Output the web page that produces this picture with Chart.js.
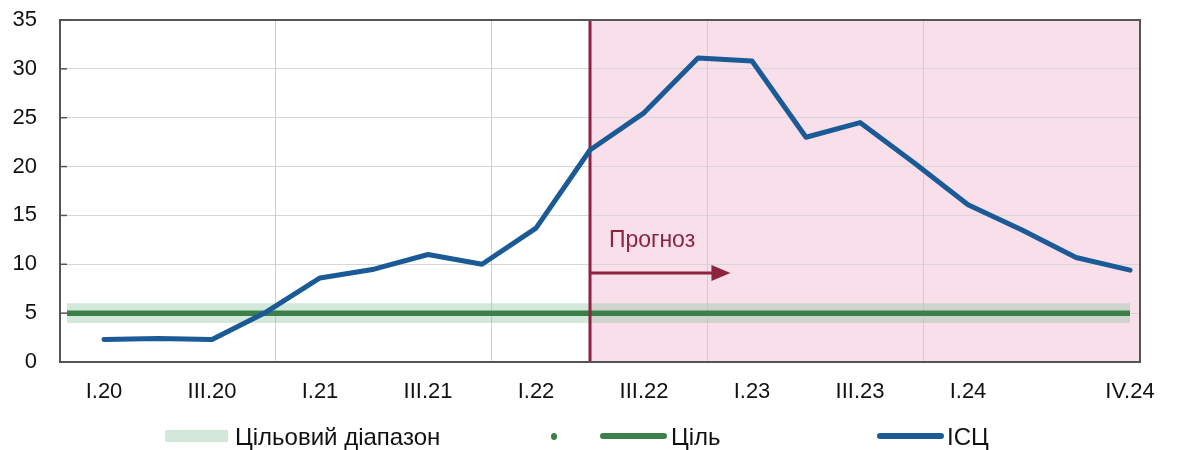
<!DOCTYPE html>
<html>
<head>
<meta charset="utf-8">
<script src="https://cdn.jsdelivr.net/npm/chart.js@4.4.1/dist/chart.umd.min.js"></script>
<style>
  body { margin: 0; background: #fff; }
  #wrap { position: relative; width: 1177px; height: 450px; }
  .legend { position: absolute; top: 423px; height: 28px; font: 24px "Liberation Sans", Arial, sans-serif; color: #111; }
  .legend span { position: absolute; white-space: nowrap; line-height: 28px; }
</style>
</head>
<body>
<div id="wrap">
  <canvas id="grafica"></canvas>
  <div class="legend">
    <span style="left:165px; top:7px; width:63px; height:12px; background:#d3e8da;"></span>
    <span style="left:235px; top:0px;">Цільовий діапазон</span>
    <span style="left:551px; top:10px; width:6px; height:7px; border-radius:50%; background:#3b8048;"></span>
    <span style="left:600px; top:10px; width:67px; height:6px; border-radius:3px; background:#3b8048;"></span>
    <span style="left:671px; top:0px;">Ціль</span>
    <span style="left:877px; top:10px; width:67px; height:6px; border-radius:3px; background:#1a5a96;"></span>
    <span style="left:947px; top:0px;">ІСЦ</span>
  </div>
</div>
<script>
// Дані
const quarters = ["I.20", "II.20", "III.20", "IV.20", "I.21", "II.21", "III.21", "IV.21",
    "I.22", "II.22", "III.22", "IV.22", "I.23", "II.23", "III.23", "IV.23",
    "I.24", "II.24", "III.24", "IV.24"];
const cpi = [2.3, 2.4, 2.3, 5.1, 8.6, 9.5, 11.0, 10.0, 13.7, 21.7, 25.5, 31.1,
    30.8, 23.0, 24.5, 20.4, 16.1, 13.5, 10.7, 9.4];
const tickQuarters = ["I.20", "III.20", "I.21", "III.21", "I.22", "III.22", "I.23", "III.23", "I.24", "IV.24"];
const yTicks = [0, 5, 10, 15, 20, 25, 30, 35];
const target = 5;
const bandLow = 4;
const bandHigh = 6;
const forecastStart = "II.22";
const forecastLabel = "Прогноз";

// розмітка осі x (в одиницях кварталів)
const xMin = -0.815, xMax = 19.185;
const bandFrom = -0.685;
const yearLines = [3.17, 7.17, 11.17, 15.17];
const arrowTo = 11.6, arrowY = 9.1, labelX = 9.35, labelY = 12.4;

const FONT = "'Liberation Sans', Arial, sans-serif";
const RED = "#8c2341";
const last = quarters.length - 1;
const fIdx = quarters.indexOf(forecastStart);

const cpiPoints = cpi.map((v, i) => ({x: i, y: v}));
const span = (v) => [{x: bandFrom, y: v}, {x: last, y: v}];

const forecastPlugin = {
    id: "forecast",
    beforeDraw(chart) {
        let ctx = chart.ctx, a = chart.chartArea, x = chart.scales.x;
        ctx.save();
        ctx.fillStyle = "#f9dfe9";
        let px = x.getPixelForValue(fIdx);
        ctx.fillRect(px, a.top, a.right - px, a.bottom - a.top);
        ctx.restore();
    },
    beforeDatasetsDraw(chart) {
        let ctx = chart.ctx, a = chart.chartArea, x = chart.scales.x;
        ctx.save();
        ctx.strokeStyle = "#cfcfcf";
        ctx.lineWidth = 1;
        yearLines.forEach(v => {
            let px = Math.round(x.getPixelForValue(v)) + 0.5;
            ctx.beginPath();
            ctx.moveTo(px, a.top);
            ctx.lineTo(px, a.bottom);
            ctx.stroke();
        });
        ctx.restore();
    },
    afterDatasetDraw(chart, args) {
        if (args.index !== 1) return;
        let ctx = chart.ctx, a = chart.chartArea, x = chart.scales.x, y = chart.scales.y;
        let px = x.getPixelForValue(fIdx);
        ctx.save();
        ctx.strokeStyle = RED;
        ctx.fillStyle = RED;
        ctx.lineWidth = 3;
        ctx.beginPath();
        ctx.moveTo(px, a.top);
        ctx.lineTo(px, a.bottom);
        ctx.stroke();
        // стрілка
        let ay = y.getPixelForValue(arrowY), ax = x.getPixelForValue(arrowTo);
        ctx.beginPath();
        ctx.moveTo(px, ay);
        ctx.lineTo(ax - 14, ay);
        ctx.stroke();
        ctx.beginPath();
        ctx.moveTo(ax, ay);
        ctx.lineTo(ax - 19, ay - 8);
        ctx.lineTo(ax - 19, ay + 8);
        ctx.closePath();
        ctx.fill();
        ctx.font = "23px " + FONT;
        ctx.textBaseline = "middle";
        ctx.fillText(forecastLabel, x.getPixelForValue(labelX), y.getPixelForValue(labelY));
        ctx.restore();
    },
    afterDraw(chart) {
        let ctx = chart.ctx, a = chart.chartArea, y = chart.scales.y;
        ctx.save();
        ctx.strokeStyle = "#555";
        ctx.lineWidth = 2;
        ctx.strokeRect(a.left, a.top, a.right - a.left, a.bottom - a.top);
        ctx.lineWidth = 1.5;
        yTicks.forEach(v => {
            let py = y.getPixelForValue(v);
            ctx.beginPath();
            ctx.moveTo(a.left, py);
            ctx.lineTo(a.left + 7, py);
            ctx.stroke();
        });
        ctx.restore();
    }
};

function loadChart() {
    let ctx = document.getElementById("grafica");
    let myChart = new Chart(ctx, {
        type: "line",
        data: {
            datasets: [{
                label: "ІСЦ",
                data: cpiPoints,
                borderColor: "#1a5a96",
                borderWidth: 5,
                borderCapStyle: "round",
                borderJoinStyle: "round",
                pointRadius: 0,
                tension: 0
            }, {
                label: "Ціль",
                data: span(target),
                borderColor: "#3b8048",
                borderWidth: 5.5,
                pointRadius: 0
            }, {
                label: "low",
                data: span(bandLow),
                borderWidth: 0,
                pointRadius: 0
            }, {
                label: "Цільовий діапазон",
                data: span(bandHigh),
                borderWidth: 0,
                pointRadius: 0,
                fill: "-1",
                backgroundColor: "rgba(150,200,170,0.42)"
            }]
        },
        options: {
            responsive: true,
            maintainAspectRatio: false,
            animation: false,
            layout: {padding: {top: 20, right: 37, left: 0, bottom: 0}},
            plugins: {legend: {display: false}, tooltip: {enabled: false}},
            scales: {
                x: {
                    type: "linear",
                    min: xMin,
                    max: xMax,
                    afterBuildTicks: (s) => { s.ticks = tickQuarters.map(q => ({value: quarters.indexOf(q)})); },
                    afterFit: (s) => { s.height = 88; },
                    grid: {display: false, drawTicks: false},
                    border: {display: false},
                    ticks: {
                        autoSkip: false,
                        maxRotation: 0,
                        padding: 17,
                        color: "#111",
                        font: {size: 22, family: FONT},
                        callback: (v) => quarters[v]
                    }
                },
                y: {
                    min: yTicks[0],
                    max: yTicks[yTicks.length - 1],
                    afterBuildTicks: (s) => { s.ticks = yTicks.map(v => ({value: v})); },
                    afterFit: (s) => { s.width = 60; s.paddingTop = 0; s.paddingBottom = 0; },
                    grid: {color: "#d6d6d6", lineWidth: 1, drawTicks: false},
                    border: {display: false},
                    ticks: {
                        padding: 23,
                        color: "#111",
                        font: {size: 22, family: FONT}
                    }
                }
            }
        },
        plugins: [forecastPlugin]
    });
}

loadChart();
</script>
</body>
</html>
